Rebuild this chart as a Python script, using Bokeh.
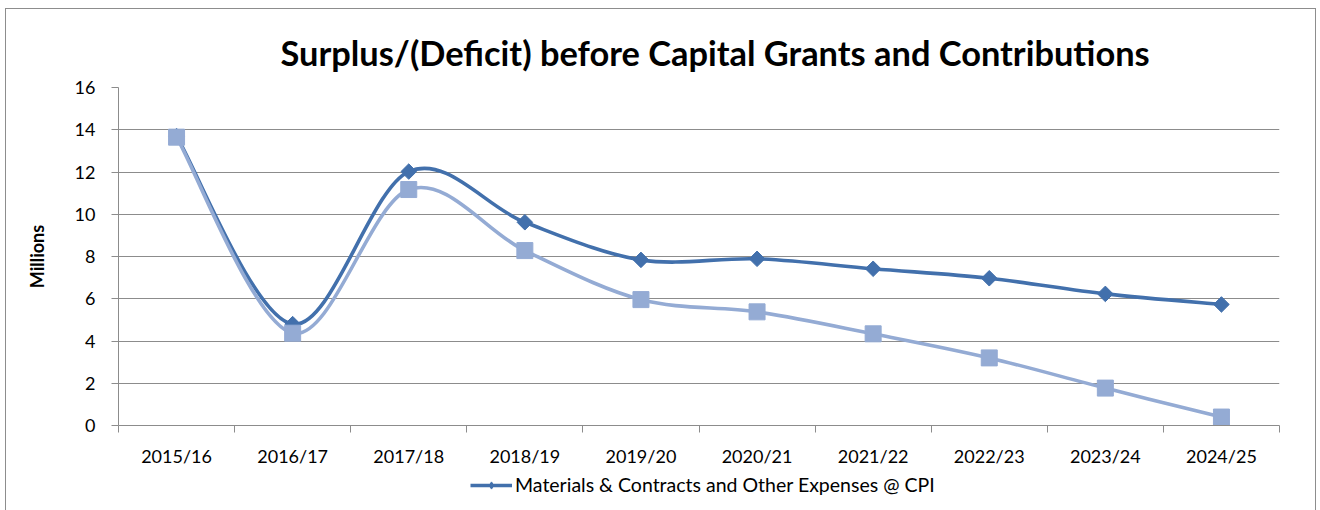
import math
from bokeh.plotting import figure
from bokeh.layouts import column
from bokeh.models import FixedTicker, Legend, LegendItem
from bokeh.embed import file_html
from bokeh.resources import INLINE

# ---------------- data ----------------
categories = ["2015/16", "2016/17", "2017/18", "2018/19", "2019/20",
              "2020/21", "2021/22", "2022/23", "2023/24", "2024/25"]
cpi_series = [13.70, 4.80, 12.02, 9.62, 7.84, 7.89, 7.42, 6.97, 6.23, 5.73]
other_series = [13.65, 4.37, 11.17, 8.28, 5.96, 5.38, 4.34, 3.20, 1.77, 0.40]
y_ticks = [0, 2, 4, 6, 8, 10, 12, 14, 16]
legend_label = "Materials & Contracts and Other Expenses @ CPI"
title_text = "Surplus/(Deficit) before Capital Grants and Contributions"
y_label = "Millions"

DARK = "#4270AC"
LIGHT = "#94ABD4"
GRID = "#8c8c8c"
FONT = "Lato"
W = 1309

xs = [i + 0.5 for i in range(len(categories))]


def smooth_segments(x, y):
    """Catmull-Rom style bezier control points (Excel-like smoothed line)."""
    n = len(x)
    out = {k: [] for k in ("x0", "y0", "x1", "y1", "cx0", "cy0", "cx1", "cy1")}
    for i in range(n - 1):
        im1 = max(i - 1, 0)
        ip2 = min(i + 2, n - 1)
        out["x0"].append(x[i]); out["y0"].append(y[i])
        out["x1"].append(x[i + 1]); out["y1"].append(y[i + 1])
        out["cx0"].append(x[i] + (x[i + 1] - x[im1]) / 6)
        out["cy0"].append(y[i] + (y[i + 1] - y[im1]) / 6)
        out["cx1"].append(x[i + 1] - (x[ip2] - x[i]) / 6)
        out["cy1"].append(y[i + 1] - (y[ip2] - y[i]) / 6)
    return out


p = figure(width=W, height=460, output_backend="svg", toolbar_location=None,
           x_range=(0, len(categories)), y_range=(0, 16),
           min_border_left=112, min_border_right=36, min_border_top=78,
           min_border_bottom=43)
p.outline_line_color = None
p.background_fill_color = "white"
p.border_fill_color = "white"

p.title.text = title_text
p.title.text_font = FONT
p.title.text_font_size = "34.4px"
p.title.text_font_style = "bold"
p.title.align = "left"
p.title.offset = 162
p.title.standoff = 30
p.title.text_color = "black"

# axes
p.xaxis.ticker = FixedTicker(ticks=xs, minor_ticks=list(range(len(categories) + 1)))
p.xaxis.major_label_overrides = {x: c for x, c in zip(xs, categories)}
p.xaxis.major_tick_line_color = None
p.xaxis.minor_tick_line_color = GRID
p.xaxis.minor_tick_out = 7
p.xaxis.minor_tick_in = 0
p.xaxis.axis_line_color = GRID
p.xaxis.major_label_text_font = FONT
p.xaxis.major_label_text_font_size = "18px"
p.xaxis.major_label_text_color = "black"
p.xaxis.major_label_standoff = 12

p.yaxis.ticker = FixedTicker(ticks=y_ticks, minor_ticks=[])
p.yaxis.major_tick_out = 7
p.yaxis.major_tick_in = 0
p.yaxis.major_tick_line_color = GRID
p.yaxis.axis_line_color = GRID
p.yaxis.major_label_text_font = FONT
p.yaxis.major_label_text_font_size = "18px"
p.yaxis.major_label_text_color = "black"
p.yaxis.major_label_standoff = 16
p.yaxis.axis_label = y_label
p.yaxis.axis_label_text_font = FONT
p.yaxis.axis_label_text_font_size = "18px"
p.yaxis.axis_label_text_font_style = "bold"
p.yaxis.axis_label_text_color = "black"
p.yaxis.axis_label_standoff = 24

p.xgrid.grid_line_color = None
p.ygrid.grid_line_color = GRID
p.ygrid.grid_line_width = 1

# dark series
s1 = smooth_segments(xs, cpi_series)
p.bezier(x0=s1["x0"], y0=s1["y0"], x1=s1["x1"], y1=s1["y1"],
         cx0=s1["cx0"], cy0=s1["cy0"], cx1=s1["cx1"], cy1=s1["cy1"],
         line_color=DARK, line_width=3.6)
p.scatter(xs, cpi_series, marker="square", size=11, angle=math.pi / 4,
          fill_color=DARK, line_color=DARK)

# light series
s2 = smooth_segments(xs, other_series)
p.bezier(x0=s2["x0"], y0=s2["y0"], x1=s2["x1"], y1=s2["y1"],
         cx0=s2["cx0"], cy0=s2["cy0"], cx1=s2["cx1"], cy1=s2["cy1"],
         line_color=LIGHT, line_width=3.6)
p.scatter(xs, other_series, marker="square", size=16,
          fill_color=LIGHT, line_color=LIGHT)

# ---------------- legend strip ----------------
lf = figure(width=W, height=42, output_backend="svg", toolbar_location=None,
            x_axis_location=None, y_axis_location=None,
            x_range=(100, 101), y_range=(100, 101),
            min_border_left=0, min_border_right=0, min_border_top=0,
            min_border_bottom=0)
lf.outline_line_color = None
lf.grid.grid_line_color = None
lf.background_fill_color = "white"
lf.border_fill_color = "white"
lg_line = lf.line(xs, cpi_series, line_color=DARK, line_width=3.6)
lg_mark = lf.scatter(xs, cpi_series, marker="diamond", size=15,
                     fill_color=DARK, line_color=DARK)
legend = Legend(items=[LegendItem(label=legend_label, renderers=[lg_line, lg_mark])],
                orientation="horizontal", location=(352, 15),
                label_text_font=FONT, label_text_font_size="19.5px",
                label_text_color="black", glyph_width=42, glyph_height=18,
                border_line_color=None, background_fill_alpha=0,
                margin=0, padding=2, label_standoff=3)
lf.add_layout(legend, "center")

layout = column(p, lf, spacing=0)
layout.styles = {"border": "1px solid #8d8d8d", "margin-left": "5px", "margin-top": "8px"}

open("out.html", "w").write(file_html(layout, INLINE))
